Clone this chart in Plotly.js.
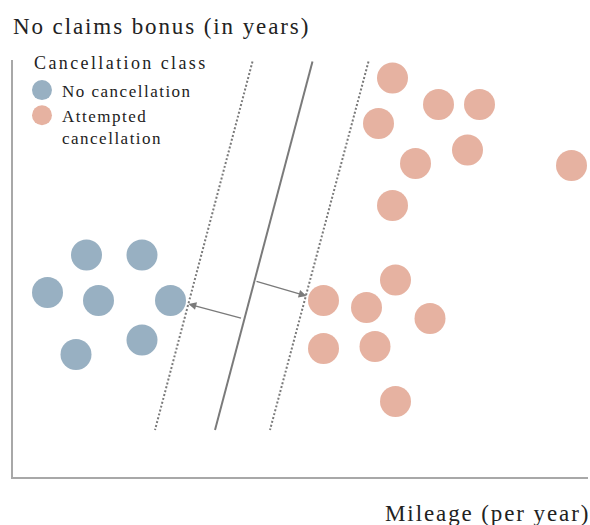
<!DOCTYPE html>
<html>
<head>
<meta charset="utf-8">
<script src="https://cdn.plot.ly/plotly-3.0.1.min.js"></script>
<style>
html,body{margin:0;padding:0;background:#fff;}
#chart{width:590px;height:525px;}
.annotation-text{letter-spacing:1.9px;}
.legendtitletext{letter-spacing:2.4px;}
.legendtext{letter-spacing:1.5px;}
</style>
</head>
<body>
<div id="chart"></div>
<script>
// Class: No cancellation
var noCancelX = [1.47, 2.58, 0.69, 1.71, 3.15, 2.58, 1.26];
var noCancelY = [4.44, 4.44, 3.69, 3.53, 3.53, 2.74, 2.45];
// Class: Attempted cancellation
var attemptX = [7.59, 8.51, 9.33, 7.31, 8.05, 9.09, 11.17, 7.59, 7.65, 6.21, 7.07, 8.34, 6.21, 7.24, 7.65];
var attemptY = [7.98, 7.45, 7.45, 7.07, 6.27, 6.54, 6.23, 5.43, 3.94, 3.53, 3.39, 3.17, 2.57, 2.61, 1.51];
// Separating hyperplane and margins (top/bottom end points)
var hyperX = [5.99, 4.04];
var hyperY = [8.31, 0.94];
var marginLowX = [4.79, 2.84];
var marginHighX = [7.11, 5.14];
var marginY = [8.31, 0.94];
// Margin arrows: [tailX, tailY, headX, headY]
var arrowLeft = [4.59, 3.17, 3.51, 3.46];
var arrowRight = [4.84, 3.92, 5.87, 3.62];

var names = ['No cancellation', 'Attempted<br>cancellation'];
var colors = ['#98b0c2', '#e6b2a1'];
var lineColor = '#7a7a7a';
var fontFam = 'Liberation Serif, Times New Roman, serif';
var textColor = '#222222';

var traces = [
  {x: noCancelX, y: noCancelY, type: 'scatter', mode: 'markers', name: names[0], legendgroup: 'a',
   marker: {size: 31, color: colors[0], line: {width: 0}}},
  {x: attemptX, y: attemptY, type: 'scatter', mode: 'markers', name: names[1], legendgroup: 'b',
   marker: {size: 31, color: colors[1], line: {width: 0}}},
  {x: hyperX, y: hyperY, type: 'scatter', mode: 'lines', showlegend: false, hoverinfo: 'skip',
   line: {color: lineColor, width: 2}},
  {x: marginLowX, y: marginY, type: 'scatter', mode: 'lines', showlegend: false, hoverinfo: 'skip',
   line: {color: lineColor, width: 2, dash: '2px,2px'}},
  {x: marginHighX, y: marginY, type: 'scatter', mode: 'lines', showlegend: false, hoverinfo: 'skip',
   line: {color: lineColor, width: 2, dash: '2px,2px'}}
];

function arrow(a) {
  return {x: a[2], y: a[3], ax: a[0], ay: a[1], xref: 'x', yref: 'y', axref: 'x', ayref: 'y',
    text: '', showarrow: true, arrowhead: 2, arrowsize: 1.2, arrowwidth: 1.3,
    arrowcolor: lineColor, standoff: 0, startstandoff: 0};
}

var layout = {
  width: 590, height: 525,
  margin: {l: 13, r: 2, t: 60, b: 48, pad: 0},
  paper_bgcolor: '#ffffff', plot_bgcolor: '#ffffff',
  font: {family: fontFam, color: textColor, size: 17},
  showlegend: true,
  legend: {
    x: 0.033, y: 1.026, xanchor: 'left', yanchor: 'top',
    bgcolor: 'rgba(0,0,0,0)', borderwidth: 0, indentation: -10,
    valign: 'top', itemsizing: 'trace', tracegroupgap: 5, traceorder: 'normal',
    title: {text: 'Cancellation class', font: {size: 18, family: fontFam, color: textColor}},
    font: {size: 17, family: fontFam, color: textColor}
  },
  xaxis: {range: [0, 11.5], showline: true, linecolor: '#a8a8a8', linewidth: 2,
    showgrid: false, zeroline: false, showticklabels: false, ticks: '', fixedrange: true},
  yaxis: {range: [0, 8.34], showline: true, linecolor: '#a8a8a8', linewidth: 2,
    showgrid: false, zeroline: false, showticklabels: false, ticks: '', fixedrange: true},
  annotations: [
    {text: 'No claims bonus (in years)', xref: 'paper', yref: 'paper', x: -0.004, y: 1.0,
     xanchor: 'left', yanchor: 'bottom', yshift: 19, showarrow: false,
     font: {size: 23, family: fontFam, color: textColor}},
    {text: 'Mileage (per year)', xref: 'paper', yref: 'paper', x: 1.0, y: 0,
     xanchor: 'right', yanchor: 'top', yshift: -22, xshift: 4, showarrow: false,
     font: {size: 23, family: fontFam, color: textColor}},
    arrow(arrowLeft), arrow(arrowRight)
  ]
};

Plotly.newPlot('chart', traces, layout, {displayModeBar: false, staticPlot: true}).then(function (gd) {
  // enlarge legend symbols to match the reference's swatch size
  gd.querySelectorAll('.legendpoints path.scatterpts').forEach(function (p) {
    var t = p.getAttribute('transform') || '';
    p.setAttribute('transform', t + ' scale(1.25)');
  });
  // keep the legend title where the reference has it while entries sit lower
  gd.querySelectorAll('.legendtitletext').forEach(function (t) {
    t.setAttribute('transform', 'translate(0,-4)');
  });
});
</script>
</body>
</html>
